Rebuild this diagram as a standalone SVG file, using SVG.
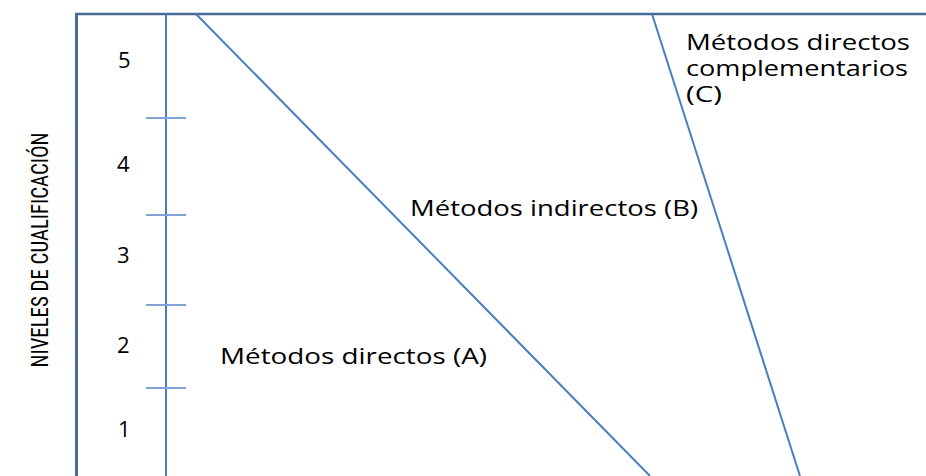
<svg xmlns="http://www.w3.org/2000/svg" width="926" height="476" viewBox="0 0 926 476">
<style>
.lbl{font-family:"Open Sans","DejaVu Sans",sans-serif;font-size:21px;fill:#000}
.num{font-family:"Open Sans","DejaVu Sans",sans-serif;font-size:22px;fill:#000}
.ax{stroke:#4a7ebf;stroke-width:2;fill:none}
.tick{stroke:#7fa3d4;stroke-width:2;fill:none}
.frame{stroke:#4a6895;fill:none}
</style>
<rect width="926" height="476" fill="#fff"/>
<g id="frame">
<line class="frame" x1="76.5" y1="14" x2="76.5" y2="476" stroke-width="3"/>
<line class="frame" x1="75" y1="14" x2="926" y2="14" stroke-width="2.5"/>
</g>
<g id="yaxis">
<line class="ax" x1="166" y1="14" x2="166" y2="476"/>
<line class="tick" x1="146" y1="118" x2="186" y2="118"/>
<line class="tick" x1="146" y1="215" x2="186" y2="215"/>
<line class="tick" x1="146" y1="305" x2="186" y2="305"/>
<line class="tick" x1="146" y1="388" x2="186" y2="388"/>
<text class="num" x="118" y="68">5</text>
<text class="num" x="117" y="172">4</text>
<text class="num" x="117" y="263">3</text>
<text class="num" x="117" y="353">2</text>
<text class="num" x="118" y="437">1</text>
</g>
<g id="ylabel">
<text transform="translate(48,250) rotate(-90)" text-anchor="middle" font-family="'Liberation Sans Narrow','Roboto Condensed','DejaVu Sans Condensed',sans-serif" font-size="23" textLength="235" lengthAdjust="spacingAndGlyphs">NIVELES DE CUALIFICACIÓN</text>
</g>
<g id="connectors">
<line class="ax" x1="196" y1="14" x2="650" y2="476"/>
<line class="ax" x1="652" y1="14" x2="800" y2="476"/>
</g>
<g id="labelA"><text class="lbl" x="220" y="364" textLength="267" lengthAdjust="spacingAndGlyphs">Métodos directos (A)</text></g>
<g id="labelB"><text class="lbl" x="410" y="216" textLength="288" lengthAdjust="spacingAndGlyphs">Métodos indirectos (B)</text></g>
<g id="labelC"><text class="lbl"><tspan x="686" y="50" textLength="224" lengthAdjust="spacingAndGlyphs">Métodos directos</tspan><tspan x="686" y="76" textLength="222" lengthAdjust="spacingAndGlyphs">complementarios</tspan><tspan x="686" y="102" textLength="36" lengthAdjust="spacingAndGlyphs">(C)</tspan></text></g>
</svg>
